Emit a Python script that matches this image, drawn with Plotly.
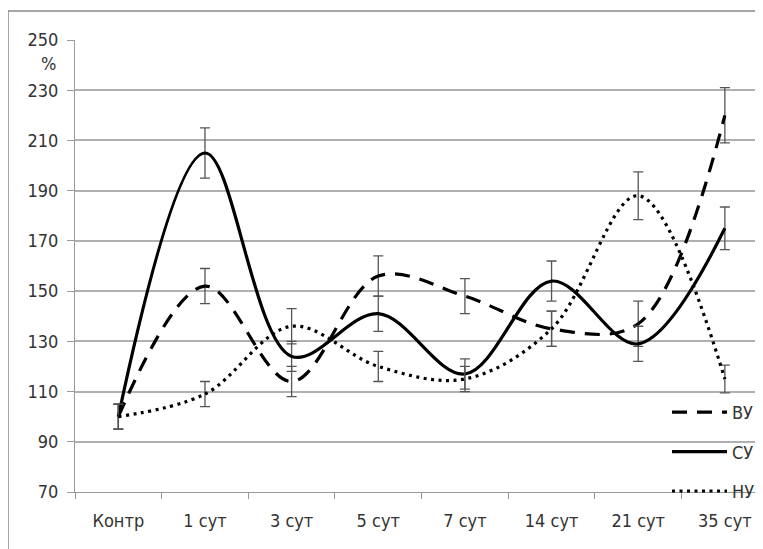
import plotly.graph_objects as go

categories = ["Контр", "1 сут", "3 сут", "5 сут", "7 сут", "14 сут", "21 сут", "35 сут"]
vu = [100, 152, 114, 156, 148, 135, 137, 220]
vu_err = [5, 7, 6, 8, 7, 7, 9, 11]
su = [100, 205, 124, 141, 117, 154, 129, 175]
su_err = [5, 10, 6, 7, 6, 8, 7, 8.5]
nu = [100, 109, 136, 120, 115, 135, 188, 115]
nu_err = [5, 5, 7, 6, 5, 7, 9.5, 5.5]
y_ticks = [70, 90, 110, 130, 150, 170, 190, 210, 230, 250]

FONT = "Liberation Sans Narrow, DejaVu Sans Condensed, Arial Narrow, sans-serif"
ERR = dict(type="data", visible=True, thickness=1.3, width=5, color="#555555")

fig = go.Figure()
series = [
    ("ВУ", vu, vu_err, "15px,10px"),
    ("СУ", su, su_err, "solid"),
    ("НУ", nu, nu_err, "3px,4.5px"),
]
for name, vals, err, dash in series:
    fig.add_trace(go.Scatter(
        x=categories, y=vals, name=name, mode="lines",
        line=dict(color="black", width=3.2, dash=dash, shape="spline", smoothing=1.0),
        error_y=dict(array=err, **ERR),
        legendgroup=name,
    ))

# page has an 8px body margin; work in page pixels, convert to figure pixels
OFF = 8
FW, FH = 763 - OFF, 549 - OFF
L = 75 - OFF
T = 40 - OFF
BOT = 492 - OFF
W = FW - L
H = BOT - T


def px_x(x):
    return (x - OFF - L) / W


def px_y(y):
    return (BOT - (y - OFF)) / H


fig.update_layout(
    width=FW, height=FH,
    margin=dict(l=L, r=0, t=T, b=FH - BOT, pad=0),
    paper_bgcolor="white", plot_bgcolor="white",
    font=dict(family=FONT, size=18, color="#333333"),
    showlegend=True,
    legend=dict(
        x=px_x(667), y=px_y(394), xanchor="left", yanchor="top",
        bgcolor="rgba(0,0,0,0)", itemwidth=55, tracegroupgap=13,
        font=dict(family=FONT, size=18, color="#333333"),
    ),
    xaxis=dict(
        type="category", range=[-0.5, 7.44],
        showgrid=False, showline=True, linecolor="#999999", linewidth=1.2,
        ticks="outside", ticklen=6, tickcolor="#999999", tickson="boundaries",
        ticklabelstandoff=12,
        tickfont=dict(family=FONT, size=18, color="#333333"),
        fixedrange=True,
    ),
    yaxis=dict(
        range=[70, 250], tickvals=y_ticks, ticktext=[str(v) for v in y_ticks],
        showgrid=True, gridcolor="#b0b0b0", gridwidth=1.5,
        showline=True, linecolor="#999999", linewidth=1.2,
        ticks="outside", ticklen=7, tickcolor="#999999",
        ticklabelstandoff=5,
        tickfont=dict(family=FONT, size=18, color="#333333"),
        zeroline=False, fixedrange=True,
    ),
    annotations=[dict(
        text="%", xref="paper", yref="paper",
        x=px_x(58), y=px_y(64), xanchor="right", yanchor="middle",
        showarrow=False, font=dict(family=FONT, size=18, color="#333333"),
    )],
    shapes=[
        dict(type="line", xref="paper", yref="paper",
             x0=px_x(8), x1=px_x(8), y0=-0.3, y1=px_y(11),
             line=dict(color="#888888", width=1.5)),
        dict(type="line", xref="paper", yref="paper",
             x0=px_x(8), x1=1.05, y0=px_y(11), y1=px_y(11),
             line=dict(color="#888888", width=1.5)),
    ],
)

fig.write_html("out.html")
